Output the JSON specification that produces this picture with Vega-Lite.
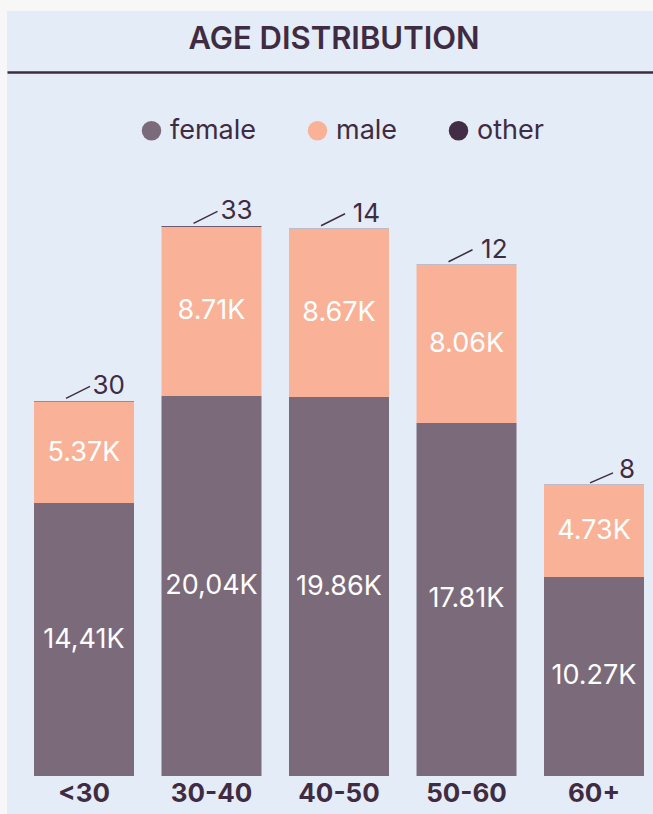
{
  "$schema": "https://vega.github.io/schema/vega-lite/v6.json",
  "width": 646,
  "height": 803,
  "autosize": {"type": "none"},
  "padding": {"left": 7, "top": 11, "right": 0, "bottom": 0},
  "background": "#f8f7f8",
  "config": {"view": {"fill": "#e4ecf7", "stroke": null}, "font": "Inter"},
  "title": {"text": "AGE DISTRIBUTION", "anchor": "middle", "orient": "top", "offset": -41, "baseline": "alphabetic", "fontSize": 31, "fontWeight": 600, "color": "#3f2b42", "font": "Inter", "dx": 4, "dy": 28},
  "data": {"values": [
    {"age": "<30", "gender": "female", "value": 14368, "label": "14,41K"},
    {"age": "<30", "gender": "male", "value": 5316, "label": "5.37K"},
    {"age": "<30", "gender": "other", "value": 30, "label": "30"},
    {"age": "30-40", "gender": "female", "value": 20000, "label": "20,04K"},
    {"age": "30-40", "gender": "male", "value": 8895, "label": "8.71K"},
    {"age": "30-40", "gender": "other", "value": 33, "label": "33"},
    {"age": "40-50", "gender": "female", "value": 19947, "label": "19.86K"},
    {"age": "40-50", "gender": "male", "value": 8842, "label": "8.67K"},
    {"age": "40-50", "gender": "other", "value": 14, "label": "14"},
    {"age": "50-60", "gender": "female", "value": 18579, "label": "17.81K"},
    {"age": "50-60", "gender": "male", "value": 8316, "label": "8.06K"},
    {"age": "50-60", "gender": "other", "value": 12, "label": "12"},
    {"age": "60+", "gender": "female", "value": 10474, "label": "10.27K"},
    {"age": "60+", "gender": "male", "value": 4842, "label": "4.73K"},
    {"age": "60+", "gender": "other", "value": 8, "label": "8"}
  ]},
  "resolve": {"axis": {"x": "independent"}},
  "layer": [
    {
      "mark": {"type": "bar"},
      "encoding": {
        "x": {"field": "age", "type": "nominal", "sort": ["<30", "30-40", "40-50", "50-60", "60+"],
          "scale": {"paddingInner": 0.2157, "paddingOuter": 0.1412, "align": 0.75},
          "axis": {"orient": "bottom", "offset": -38, "title": null, "domain": false, "ticks": false, "labelAngle": 0, "labelFontSize": 26, "labelFontWeight": 700, "labelColor": "#3f2b42", "labelPadding": 4, "labelBaseline": "top", "labelFont": "Inter"}},
        "y": {"field": "value", "type": "quantitative", "stack": "zero", "scale": {"domain": [-2000, 40263], "nice": false, "zero": false}, "axis": null},
        "order": {"field": "gender", "sort": "ascending"},
        "color": {"field": "gender", "type": "nominal", "scale": {"domain": ["female", "male", "other"], "range": ["#7b6a7a", "#f9b297", "#432c45"]},
          "legend": {"orient": "none", "legendX": 131, "legendY": 106, "direction": "horizontal", "title": null, "symbolType": "circle", "symbolSize": 380, "symbolStrokeWidth": 0, "labelFontSize": 27, "labelColor": "#3f2b42", "labelOffset": 5, "columnPadding": 47, "labelFont": "Inter", "padding": 0}}
      }
    },
    {
      "transform": [{"filter": "datum.gender != 'other'"}],
      "mark": {"type": "text", "fontSize": 27, "color": "#ffffff", "baseline": "middle", "font": "Inter"},
      "encoding": {
        "x": {"field": "age", "type": "nominal", "sort": ["<30", "30-40", "40-50", "50-60", "60+"], "axis": null},
        "y": {"field": "value", "type": "quantitative", "stack": "zero", "bandPosition": 0.5},
        "order": {"field": "gender", "sort": "ascending"},
        "detail": {"field": "gender", "type": "nominal"},
        "text": {"field": "label"}
      }
    },
    {
      "transform": [
        {"joinaggregate": [{"op": "sum", "field": "value", "as": "total"}], "groupby": ["age"]},
        {"filter": "datum.gender == 'other'"}
      ],
      "mark": {"type": "text", "fontSize": 26, "color": "#3f2b42", "align": "right", "baseline": "alphabetic", "dx": 41, "dy": -7, "font": "Inter"},
      "encoding": {
        "x": {"field": "age", "type": "nominal", "sort": ["<30", "30-40", "40-50", "50-60", "60+"],
          "axis": {"orient": "top", "offset": -61, "title": null, "labels": false, "ticks": false, "domain": true, "domainColor": "#3f2b42", "domainWidth": 2.5}},
        "y": {"field": "total", "type": "quantitative"},
        "text": {"field": "label"}
      }
    },
    {
      "transform": [
        {"joinaggregate": [{"op": "sum", "field": "value", "as": "total"}], "groupby": ["age"]},
        {"filter": "datum.gender == 'other' && datum.value >= 10"}
      ],
      "mark": {"type": "rule", "color": "#3f2b42", "strokeWidth": 1.5, "xOffset": -18, "x2Offset": 6, "yOffset": -3, "y2Offset": -15},
      "encoding": {
        "x": {"field": "age", "type": "nominal", "sort": ["<30", "30-40", "40-50", "50-60", "60+"], "bandPosition": 0.5, "axis": null},
        "x2": {"field": "age", "bandPosition": 0.5},
        "y": {"field": "total", "type": "quantitative"},
        "y2": {"field": "total"}
      }
    },
    {
      "transform": [
        {"joinaggregate": [{"op": "sum", "field": "value", "as": "total"}], "groupby": ["age"]},
        {"filter": "datum.gender == 'other' && datum.value < 10"}
      ],
      "mark": {"type": "rule", "color": "#3f2b42", "strokeWidth": 1.5, "xOffset": -4, "x2Offset": 19, "yOffset": -2, "y2Offset": -12},
      "encoding": {
        "x": {"field": "age", "type": "nominal", "sort": ["<30", "30-40", "40-50", "50-60", "60+"], "bandPosition": 0.5, "axis": null},
        "x2": {"field": "age", "bandPosition": 0.5},
        "y": {"field": "total", "type": "quantitative"},
        "y2": {"field": "total"}
      }
    }
  ]
}
